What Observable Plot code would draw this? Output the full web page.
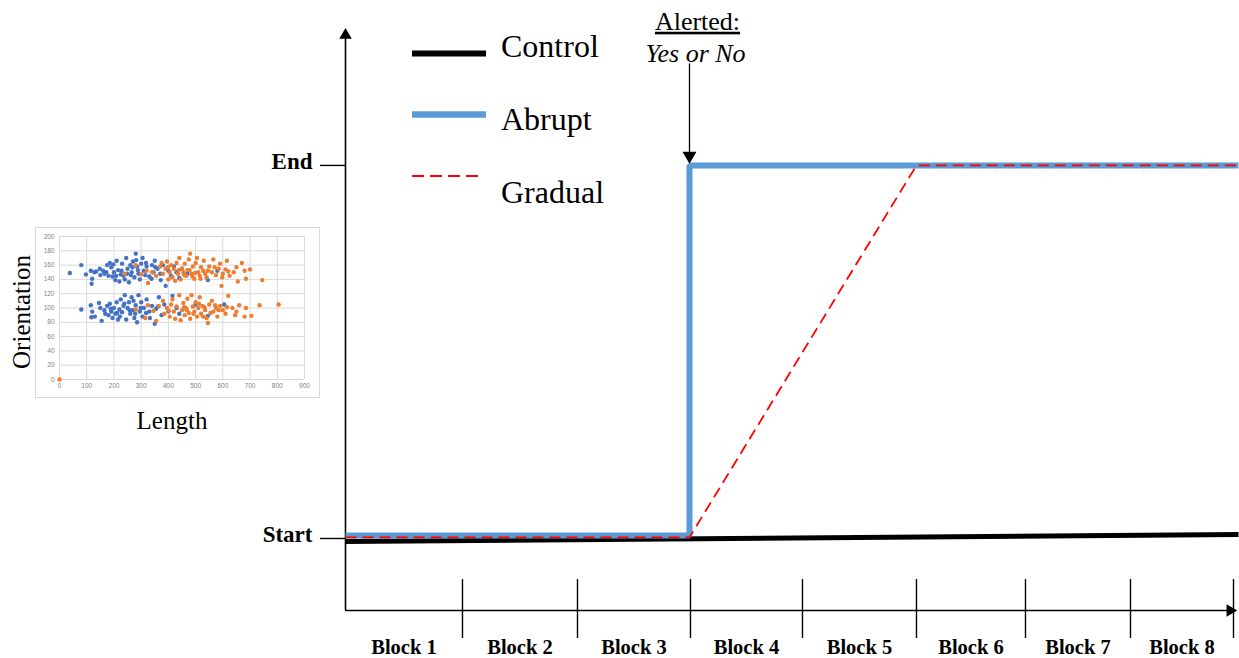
<!DOCTYPE html>
<html><head><meta charset="utf-8">
<script src="https://cdn.jsdelivr.net/npm/d3@7"></script>
<script src="https://cdn.jsdelivr.net/npm/@observablehq/plot@0.6"></script>
<style>
body{margin:0;background:#fff;}
#wrap{position:relative;width:1239px;height:658px;overflow:hidden;font-family:"Liberation Serif","Times New Roman",serif;color:#000;}
#main{position:absolute;left:0;top:0;}
#legend{position:absolute;left:0;top:0;}
#inset{position:absolute;left:35px;top:227px;border:1px solid #d9d9d9;background:#fff;line-height:0;}
#ylab{position:absolute;left:22px;top:312px;transform:translate(-50%,-50%) rotate(-90deg);font-size:25px;white-space:nowrap;}
#xlab{position:absolute;left:172px;top:421px;transform:translate(-50%,-50%);font-size:25px;white-space:nowrap;}
</style></head>
<body><div id="wrap">
<div id="main"></div>
<svg id="legend" width="700" height="220"></svg>
<div id="inset"></div>
<div id="ylab">Orientation</div>
<div id="xlab">Length</div>
</div>
<script>
// ---- main diagram data ----
const blocks = ["Block 1","Block 2","Block 3","Block 4","Block 5","Block 6","Block 7","Block 8"];
// block boundaries (time axis)
const blockEdges = [0, 1.054, 2.090, 3.108, 4.117, 5.144, 6.126, 7.072, 8.0];
const levelLabels = ["Start","End"];
const levelValues = [0,1];
const controlX = [0, 8.045];
const controlY = [-0.008, 0.011];
const abruptX = [0, 3.099, 3.099, 8.045];
const abruptY = [0.008, 0.008, 1, 1];
const gradualX = [0, 3.099, 5.144, 8.045];
const gradualY = [0.003, 0.003, 1, 1];
const alertTime = 3.099;
const alertTitle = "Alerted:";
const alertSub = "Yes or No";
const seriesNames = ["Control","Abrupt","Gradual"];

// ---- inset scatter data (Length, Orientation) ----
const bluePoints = [
[38,149],[80,160],[97,147],[115,152],[120,141],[118,134],[128,150],[135,151],[150,146],[160,152],[165,148],[175,160],[180,145],[185,163],[190,157],[195,144],[200,150],[205,139],[210,166],[215,153],[220,137],[225,147],[230,162],[235,145],[240,140],[245,170],[250,155],[255,136],[260,160],[265,150],[270,165],[275,143],[280,176],[285,158],[290,148],[295,140],[300,162],[305,170],[310,152],[315,146],[320,158],[330,144],[340,160],[345,150],[350,166],[360,155],[370,148],[380,160],[390,131],[400,152],[410,145],[420,158],[430,150],[440,142],[450,155],[470,148],[545,139],[580,152],
[172,150],[198,161],[228,152],[262,146],[288,153],[318,163],[338,141],[268,157],[248,148],[208,145],[148,155],[282,167],[352,157],[372,139],
[80,98],[115,104],[117,87],[120,95],[130,88],[145,107],[150,100],[155,82],[165,97],[175,103],[180,90],[185,106],[190,95],[195,86],[200,100],[205,92],[210,108],[215,84],[220,98],[225,112],[230,94],[235,103],[240,118],[245,84],[250,100],[255,108],[260,92],[265,115],[270,97],[275,86],[280,104],[285,80],[290,118],[295,95],[300,108],[305,88],[310,100],[320,112],[330,95],[340,103],[350,78],[355,99],[365,115],[375,90],[385,105],[400,95],[415,117],[430,100],[440,92],[500,105],[545,89],[605,105],
[188,99],[212,93],[238,106],[258,97],[278,92],[298,100],[318,93],[272,110],[222,88],[168,92],[332,86],[362,102]
];
const orangePoints = [
[0,0],
[240,148],[280,160],[300,147],[320,152],[325,135],[340,150],[355,145],[370,158],[375,163],[380,148],[390,155],[395,165],[400,140],[405,150],[410,160],[415,143],[420,155],[425,138],[430,163],[435,148],[440,170],[445,140],[450,155],[455,150],[460,162],[465,145],[470,153],[475,168],[480,176],[485,148],[490,158],[495,141],[500,163],[505,170],[510,150],[515,145],[520,157],[530,166],[535,148],[540,143],[550,158],[560,150],[565,168],[575,146],[585,155],[590,162],[595,131],[600,148],[610,154],[615,166],[625,145],[640,150],[650,157],[655,137],[670,163],[680,152],[685,141],[700,154],[745,139],
[458,146],[478,153],[498,149],[518,141],[545,152],[570,157],[598,143],[620,151],[528,152],[488,144],[438,153],[398,157],
[280,98],[315,86],[325,104],[345,96],[355,82],[365,103],[380,110],[385,92],[395,100],[405,88],[410,105],[415,112],[420,95],[425,85],[430,102],[440,118],[445,83],[450,97],[455,107],[460,90],[465,100],[470,113],[475,93],[480,85],[485,118],[490,102],[495,95],[500,108],[505,88],[510,100],[515,115],[520,92],[525,103],[535,97],[540,86],[545,79],[550,105],[560,110],[565,95],[575,100],[580,88],[590,103],[600,97],[610,92],[620,117],[635,100],[650,95],[660,104],[680,88],[685,100],[705,89],[735,104],[805,105],
[468,97],[492,92],[512,106],[532,101],[555,93],[585,97],[615,101],[645,90],[528,88],[458,101],[402,96],[572,104]
];
const insetXTicks = [0,100,200,300,400,500,600,700,800,900];
const insetYTicks = [0,20,40,60,80,100,120,140,160,180,200];

const FONT = "Liberation Serif, Times New Roman, serif";
const toPts = (xs, ys) => xs.map((x, i) => ({x, y: ys[i]}));
const blockMids = blocks.map((b, i) => (blockEdges[i] + blockEdges[i + 1]) / 2);

const main = Plot.plot({
  width: 1239, height: 658,
  marginLeft: 345, marginRight: 6, marginTop: 28, marginBottom: 48,
  x: {domain: [0, 8], axis: null},
  y: {domain: [-0.193, 1.367], axis: null},
  style: {fontFamily: FONT, background: "transparent"},
  marks: [
    // y axis with arrow
    Plot.ruleX([0], {y1: () => -0.193, y2: () => 1.345, stroke: "black", strokeWidth: 1.6}),
    Plot.dot([0], {x: d => d, y: () => 1.349, symbol: "triangle", r: 4.6, fill: "black", stroke: null}),
    // x axis with arrow
    Plot.ruleY([-0.193], {x1: () => 0, x2: () => 7.98, stroke: "black", strokeWidth: 1.6}),
    Plot.dot([-0.193], {x: () => 7.97, y: d => d, symbol: "triangle", rotate: 90, r: 4.6, fill: "black", stroke: null}),
    // block boundary ticks
    Plot.ruleX(blockEdges.slice(1), {y1: () => -0.268, y2: () => -0.110, stroke: "black", strokeWidth: 1.4}),
    Plot.text(blocks, {x: (d, i) => blockMids[i], y: () => -0.292, text: d => d, fontFamily: FONT, fontSize: 20.5, fontWeight: "bold", fill: "black"}),
    // Start / End levels
    Plot.ruleY(levelValues, {x1: () => -0.225, x2: () => 0, stroke: "black", strokeWidth: 1.4}),
    Plot.text(levelLabels, {x: () => 0, y: (d, i) => levelValues[i], text: d => d, dx: -33, dy: -4, textAnchor: "end", fontFamily: FONT, fontSize: 23, fontWeight: "bold", fill: "black"}),
    // series
    Plot.line(toPts(controlX, controlY), {x: "x", y: "y", stroke: "black", strokeWidth: 5, strokeLinecap: "butt"}),
    Plot.line(toPts(abruptX, abruptY), {x: "x", y: "y", stroke: "#5B9BD5", strokeWidth: 6, strokeLinejoin: "miter", strokeLinecap: "butt"}),
    Plot.line(toPts(gradualX, gradualY), {x: "x", y: "y", stroke: "#FF0000", strokeWidth: 1.8, strokeDasharray: "11,6", strokeLinecap: "butt"}),
    // alert annotation
    Plot.ruleX([alertTime], {y1: () => 1.272, y2: () => 1.035, stroke: "black", strokeWidth: 1.3}),
    Plot.dot([alertTime], {x: d => d, y: () => 1.026, symbol: "triangle", rotate: 180, r: 5.2, fill: "black", stroke: null}),
    Plot.text([alertTitle], {x: () => alertTime, y: () => 1.386, text: d => d, dx: 8, fontFamily: FONT, fontSize: 26, fill: "black"}),
    Plot.text([alertSub], {x: () => alertTime, y: () => 1.300, text: d => d, dx: 6, fontFamily: FONT, fontSize: 26, fontStyle: "italic", fill: "black"})
  ]
});
d3.select(main).selectAll("text").filter(function() { return this.textContent === alertTitle; })
  .attr("text-decoration", "underline");
document.getElementById("main").appendChild(main);

// legend
const leg = d3.select("#legend");
const legStyles = [
  {y: 53.5, color: "black", w: 6, dash: null, x2: 486, ty: 57},
  {y: 114.5, color: "#5B9BD5", w: 6.5, dash: null, x2: 486, ty: 130},
  {y: 176, color: "#FF0000", w: 2, dash: "12,6", x2: 482, ty: 203}
];
seriesNames.forEach((name, i) => {
  const s = legStyles[i];
  leg.append("line").attr("x1", 412).attr("x2", s.x2).attr("y1", s.y).attr("y2", s.y)
    .attr("stroke", s.color).attr("stroke-width", s.w).attr("stroke-dasharray", s.dash);
  leg.append("text").attr("x", 501).attr("y", s.ty).attr("font-family", FONT).attr("font-size", 32).text(name);
});

// inset scatter
const inset = Plot.plot({
  width: 283, height: 169,
  marginLeft: 23, marginRight: 15, marginTop: 8, marginBottom: 18,
  style: {fontFamily: "Liberation Sans, Arial, sans-serif", fontSize: "6.5px", color: "#7f7f7f", background: "white"},
  x: {domain: [0, 900], axis: null},
  y: {domain: [0, 200], axis: null},
  marks: [
    Plot.gridX(insetXTicks, {stroke: "#d9d9d9", strokeOpacity: 1}),
    Plot.gridY(insetYTicks, {stroke: "#d9d9d9", strokeOpacity: 1}),
    Plot.axisX(insetXTicks, {tickSize: 0, tickPadding: 4, label: null}),
    Plot.axisY(insetYTicks, {tickSize: 0, tickPadding: 5, label: null}),
    Plot.dot(bluePoints, {x: d => d[0], y: d => d[1], r: 2.2, fill: "#4472C4", stroke: null}),
    Plot.dot(orangePoints, {x: d => d[0], y: d => d[1], r: 2.2, fill: "#ED7D31", stroke: null})
  ]
});
document.getElementById("inset").appendChild(inset);
</script>
</body></html>
